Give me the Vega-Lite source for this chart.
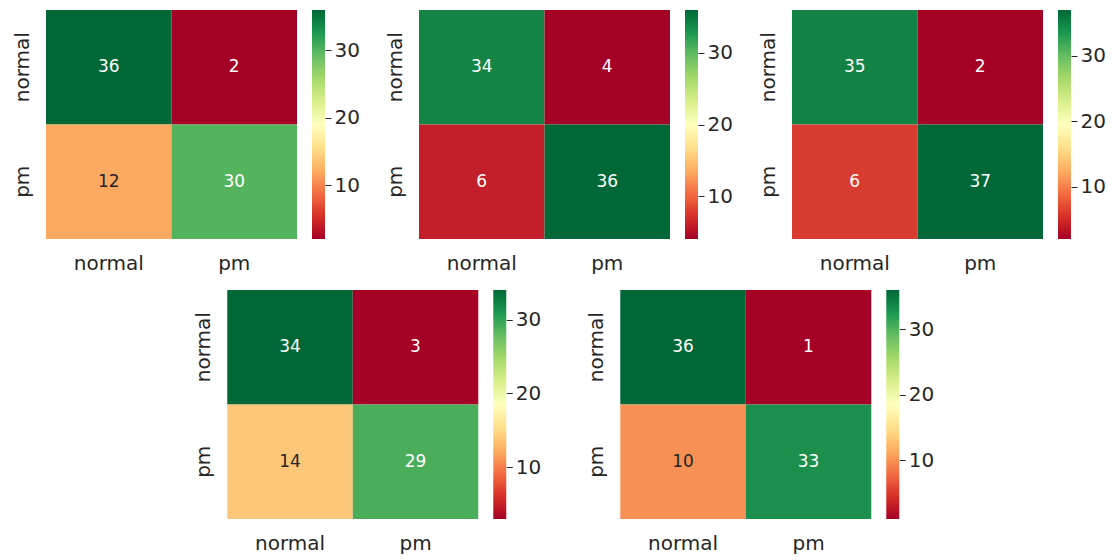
{
  "$schema": "https://vega.github.io/schema/vega-lite/v6.json",
  "padding": {"left": 6, "top": 10, "right": 0, "bottom": 0},
  "background": "white",
  "config": {
    "font": "DejaVu Sans",
    "view": {"stroke": null},
    "axis": {"labelColor": "#262626", "labelFontSize": 20, "title": null, "domain": false, "grid": false},
    "text": {"font": "DejaVu Sans"}
  },
  "datasets": {
    "m1": [{"actual": "normal", "pred": "normal", "v": 36}, {"actual": "normal", "pred": "pm", "v": 2}, {"actual": "pm", "pred": "normal", "v": 12}, {"actual": "pm", "pred": "pm", "v": 30}],
    "m2": [{"actual": "normal", "pred": "normal", "v": 34}, {"actual": "normal", "pred": "pm", "v": 4}, {"actual": "pm", "pred": "normal", "v": 6}, {"actual": "pm", "pred": "pm", "v": 36}],
    "m3": [{"actual": "normal", "pred": "normal", "v": 35}, {"actual": "normal", "pred": "pm", "v": 2}, {"actual": "pm", "pred": "normal", "v": 6}, {"actual": "pm", "pred": "pm", "v": 37}],
    "m4": [{"actual": "normal", "pred": "normal", "v": 34}, {"actual": "normal", "pred": "pm", "v": 3}, {"actual": "pm", "pred": "normal", "v": 14}, {"actual": "pm", "pred": "pm", "v": 29}],
    "m5": [{"actual": "normal", "pred": "normal", "v": 36}, {"actual": "normal", "pred": "pm", "v": 1}, {"actual": "pm", "pred": "normal", "v": 10}, {"actual": "pm", "pred": "pm", "v": 33}],
    "c1": [{"lo": 2, "hi": 36}],
    "c2": [{"lo": 4, "hi": 36}],
    "c3": [{"lo": 2, "hi": 37}],
    "c4": [{"lo": 3, "hi": 34}],
    "c5": [{"lo": 1, "hi": 36}]
  },
  "resolve": {"scale": {"color": "independent"}},
  "vconcat": [
    {
      "resolve": {"scale": {"color": "independent"}},
      "hconcat": [
        {
          "resolve": {"scale": {"color": "independent"}},
          "hconcat": [
            {
              "data": {"name": "m1"}, "width": 251, "height": 229,
              "encoding": {
                "x": {"field": "pred", "type": "nominal", "sort": ["normal", "pm"], "scale": {"paddingInner": 0, "paddingOuter": 0}, "axis": {"labelAngle": 0, "ticks": false, "labelPadding": 14, "minExtent": 40, "maxExtent": 40}},
                "y": {"field": "actual", "type": "nominal", "sort": ["normal", "pm"], "scale": {"paddingInner": 0, "paddingOuter": 0}, "axis": {"labelAngle": -90, "labelAlign": "center", "labelBaseline": "bottom", "ticks": false, "labelPadding": 14, "minExtent": 40, "maxExtent": 40}}
              },
              "layer": [
                {"mark": "rect", "encoding": {"color": {"field": "v", "type": "quantitative", "scale": {"scheme": "redyellowgreen", "domain": [2, 36], "nice": false, "zero": false}, "legend": null}}},
                {"mark": {"type": "text", "fontSize": 17}, "encoding": {"text": {"field": "v", "type": "quantitative"}, "color": {"condition": {"test": "datum.v >= 8 && datum.v <= 25", "value": "#262626"}, "value": "#ffffff"}}}
              ]
            },
            {
              "data": {"name": "c1"}, "width": 13, "height": 229,
              "mark": {"type": "rect", "color": {"gradient": "linear", "x1": 0, "y1": 1, "x2": 0, "y2": 0, "stops": [{"offset": 0, "color": "#a50026"}, {"offset": 0.1, "color": "#d73027"}, {"offset": 0.2, "color": "#f46d43"}, {"offset": 0.3, "color": "#fdae61"}, {"offset": 0.4, "color": "#fee08b"}, {"offset": 0.5, "color": "#ffffbf"}, {"offset": 0.6, "color": "#d9ef8b"}, {"offset": 0.7, "color": "#a6d96a"}, {"offset": 0.8, "color": "#66bd63"}, {"offset": 0.9, "color": "#1a9850"}, {"offset": 1, "color": "#006837"}]}},
              "encoding": {
                "y": {"field": "lo", "type": "quantitative", "scale": {"domain": [2, 36], "nice": false, "zero": false}, "axis": {"orient": "right", "values": [10, 20, 30], "tickSize": 6, "tickColor": "#262626", "labelPadding": 3, "minExtent": 40, "maxExtent": 40}},
                "y2": {"field": "hi"}
              }
            }
          ],
          "spacing": 15
        },
        {
          "resolve": {"scale": {"color": "independent"}},
          "hconcat": [
            {
              "data": {"name": "m2"}, "width": 251, "height": 229,
              "encoding": {
                "x": {"field": "pred", "type": "nominal", "sort": ["normal", "pm"], "scale": {"paddingInner": 0, "paddingOuter": 0}, "axis": {"labelAngle": 0, "ticks": false, "labelPadding": 14, "minExtent": 40, "maxExtent": 40}},
                "y": {"field": "actual", "type": "nominal", "sort": ["normal", "pm"], "scale": {"paddingInner": 0, "paddingOuter": 0}, "axis": {"labelAngle": -90, "labelAlign": "center", "labelBaseline": "bottom", "ticks": false, "labelPadding": 14, "minExtent": 40, "maxExtent": 40}}
              },
              "layer": [
                {"mark": "rect", "encoding": {"color": {"field": "v", "type": "quantitative", "scale": {"scheme": "redyellowgreen", "domain": [4, 36], "nice": false, "zero": false}, "legend": null}}},
                {"mark": {"type": "text", "fontSize": 17}, "encoding": {"text": {"field": "v", "type": "quantitative"}, "color": {"condition": {"test": "datum.v >= 8 && datum.v <= 25", "value": "#262626"}, "value": "#ffffff"}}}
              ]
            },
            {
              "data": {"name": "c2"}, "width": 13, "height": 229,
              "mark": {"type": "rect", "color": {"gradient": "linear", "x1": 0, "y1": 1, "x2": 0, "y2": 0, "stops": [{"offset": 0, "color": "#a50026"}, {"offset": 0.1, "color": "#d73027"}, {"offset": 0.2, "color": "#f46d43"}, {"offset": 0.3, "color": "#fdae61"}, {"offset": 0.4, "color": "#fee08b"}, {"offset": 0.5, "color": "#ffffbf"}, {"offset": 0.6, "color": "#d9ef8b"}, {"offset": 0.7, "color": "#a6d96a"}, {"offset": 0.8, "color": "#66bd63"}, {"offset": 0.9, "color": "#1a9850"}, {"offset": 1, "color": "#006837"}]}},
              "encoding": {
                "y": {"field": "lo", "type": "quantitative", "scale": {"domain": [4, 36], "nice": false, "zero": false}, "axis": {"orient": "right", "values": [10, 20, 30], "tickSize": 6, "tickColor": "#262626", "labelPadding": 3, "minExtent": 40, "maxExtent": 40}},
                "y2": {"field": "hi"}
              }
            }
          ],
          "spacing": 15
        },
        {
          "resolve": {"scale": {"color": "independent"}},
          "hconcat": [
            {
              "data": {"name": "m3"}, "width": 251, "height": 229,
              "encoding": {
                "x": {"field": "pred", "type": "nominal", "sort": ["normal", "pm"], "scale": {"paddingInner": 0, "paddingOuter": 0}, "axis": {"labelAngle": 0, "ticks": false, "labelPadding": 14, "minExtent": 40, "maxExtent": 40}},
                "y": {"field": "actual", "type": "nominal", "sort": ["normal", "pm"], "scale": {"paddingInner": 0, "paddingOuter": 0}, "axis": {"labelAngle": -90, "labelAlign": "center", "labelBaseline": "bottom", "ticks": false, "labelPadding": 14, "minExtent": 40, "maxExtent": 40}}
              },
              "layer": [
                {"mark": "rect", "encoding": {"color": {"field": "v", "type": "quantitative", "scale": {"scheme": "redyellowgreen", "domain": [2, 37], "nice": false, "zero": false}, "legend": null}}},
                {"mark": {"type": "text", "fontSize": 17}, "encoding": {"text": {"field": "v", "type": "quantitative"}, "color": {"condition": {"test": "datum.v >= 8 && datum.v <= 25", "value": "#262626"}, "value": "#ffffff"}}}
              ]
            },
            {
              "data": {"name": "c3"}, "width": 13, "height": 229,
              "mark": {"type": "rect", "color": {"gradient": "linear", "x1": 0, "y1": 1, "x2": 0, "y2": 0, "stops": [{"offset": 0, "color": "#a50026"}, {"offset": 0.1, "color": "#d73027"}, {"offset": 0.2, "color": "#f46d43"}, {"offset": 0.3, "color": "#fdae61"}, {"offset": 0.4, "color": "#fee08b"}, {"offset": 0.5, "color": "#ffffbf"}, {"offset": 0.6, "color": "#d9ef8b"}, {"offset": 0.7, "color": "#a6d96a"}, {"offset": 0.8, "color": "#66bd63"}, {"offset": 0.9, "color": "#1a9850"}, {"offset": 1, "color": "#006837"}]}},
              "encoding": {
                "y": {"field": "lo", "type": "quantitative", "scale": {"domain": [2, 37], "nice": false, "zero": false}, "axis": {"orient": "right", "values": [10, 20, 30], "tickSize": 6, "tickColor": "#262626", "labelPadding": 3, "minExtent": 44, "maxExtent": 44}},
                "y2": {"field": "hi"}
              }
            }
          ],
          "spacing": 15
        }
      ],
      "spacing": 14
    },
    {
      "resolve": {"scale": {"color": "independent"}},
      "hconcat": [
        {
          "resolve": {"scale": {"color": "independent"}},
          "hconcat": [
            {
              "data": {"name": "m4"}, "width": 251, "height": 229,
              "encoding": {
                "x": {"field": "pred", "type": "nominal", "sort": ["normal", "pm"], "scale": {"paddingInner": 0, "paddingOuter": 0}, "axis": {"labelAngle": 0, "ticks": false, "labelPadding": 14, "minExtent": 40, "maxExtent": 40}},
                "y": {"field": "actual", "type": "nominal", "sort": ["normal", "pm"], "scale": {"paddingInner": 0, "paddingOuter": 0}, "axis": {"labelAngle": -90, "labelAlign": "center", "labelBaseline": "bottom", "ticks": false, "labelPadding": 14, "minExtent": 40, "maxExtent": 40}}
              },
              "layer": [
                {"mark": "rect", "encoding": {"color": {"field": "v", "type": "quantitative", "scale": {"scheme": "redyellowgreen", "domain": [3, 34], "nice": false, "zero": false}, "legend": null}}},
                {"mark": {"type": "text", "fontSize": 17}, "encoding": {"text": {"field": "v", "type": "quantitative"}, "color": {"condition": {"test": "datum.v >= 8 && datum.v <= 25", "value": "#262626"}, "value": "#ffffff"}}}
              ]
            },
            {
              "data": {"name": "c4"}, "width": 13, "height": 229,
              "mark": {"type": "rect", "color": {"gradient": "linear", "x1": 0, "y1": 1, "x2": 0, "y2": 0, "stops": [{"offset": 0, "color": "#a50026"}, {"offset": 0.1, "color": "#d73027"}, {"offset": 0.2, "color": "#f46d43"}, {"offset": 0.3, "color": "#fdae61"}, {"offset": 0.4, "color": "#fee08b"}, {"offset": 0.5, "color": "#ffffbf"}, {"offset": 0.6, "color": "#d9ef8b"}, {"offset": 0.7, "color": "#a6d96a"}, {"offset": 0.8, "color": "#66bd63"}, {"offset": 0.9, "color": "#1a9850"}, {"offset": 1, "color": "#006837"}]}},
              "encoding": {
                "y": {"field": "lo", "type": "quantitative", "scale": {"domain": [3, 34], "nice": false, "zero": false}, "axis": {"orient": "right", "values": [10, 20, 30], "tickSize": 6, "tickColor": "#262626", "labelPadding": 3, "minExtent": 40, "maxExtent": 40}},
                "y2": {"field": "hi"}
              }
            }
          ],
          "spacing": 15
        },
        {
          "resolve": {"scale": {"color": "independent"}},
          "hconcat": [
            {
              "data": {"name": "m5"}, "width": 251, "height": 229,
              "encoding": {
                "x": {"field": "pred", "type": "nominal", "sort": ["normal", "pm"], "scale": {"paddingInner": 0, "paddingOuter": 0}, "axis": {"labelAngle": 0, "ticks": false, "labelPadding": 14, "minExtent": 40, "maxExtent": 40}},
                "y": {"field": "actual", "type": "nominal", "sort": ["normal", "pm"], "scale": {"paddingInner": 0, "paddingOuter": 0}, "axis": {"labelAngle": -90, "labelAlign": "center", "labelBaseline": "bottom", "ticks": false, "labelPadding": 14, "minExtent": 40, "maxExtent": 40}}
              },
              "layer": [
                {"mark": "rect", "encoding": {"color": {"field": "v", "type": "quantitative", "scale": {"scheme": "redyellowgreen", "domain": [1, 36], "nice": false, "zero": false}, "legend": null}}},
                {"mark": {"type": "text", "fontSize": 17}, "encoding": {"text": {"field": "v", "type": "quantitative"}, "color": {"condition": {"test": "datum.v >= 8 && datum.v <= 25", "value": "#262626"}, "value": "#ffffff"}}}
              ]
            },
            {
              "data": {"name": "c5"}, "width": 13, "height": 229,
              "mark": {"type": "rect", "color": {"gradient": "linear", "x1": 0, "y1": 1, "x2": 0, "y2": 0, "stops": [{"offset": 0, "color": "#a50026"}, {"offset": 0.1, "color": "#d73027"}, {"offset": 0.2, "color": "#f46d43"}, {"offset": 0.3, "color": "#fdae61"}, {"offset": 0.4, "color": "#fee08b"}, {"offset": 0.5, "color": "#ffffbf"}, {"offset": 0.6, "color": "#d9ef8b"}, {"offset": 0.7, "color": "#a6d96a"}, {"offset": 0.8, "color": "#66bd63"}, {"offset": 0.9, "color": "#1a9850"}, {"offset": 1, "color": "#006837"}]}},
              "encoding": {
                "y": {"field": "lo", "type": "quantitative", "scale": {"domain": [1, 36], "nice": false, "zero": false}, "axis": {"orient": "right", "values": [10, 20, 30], "tickSize": 6, "tickColor": "#262626", "labelPadding": 3, "minExtent": 24, "maxExtent": 24}},
                "y2": {"field": "hi"}
              }
            }
          ],
          "spacing": 15
        }
      ],
      "spacing": 34
    }
  ],
  "spacing": 11, "center": true
}
